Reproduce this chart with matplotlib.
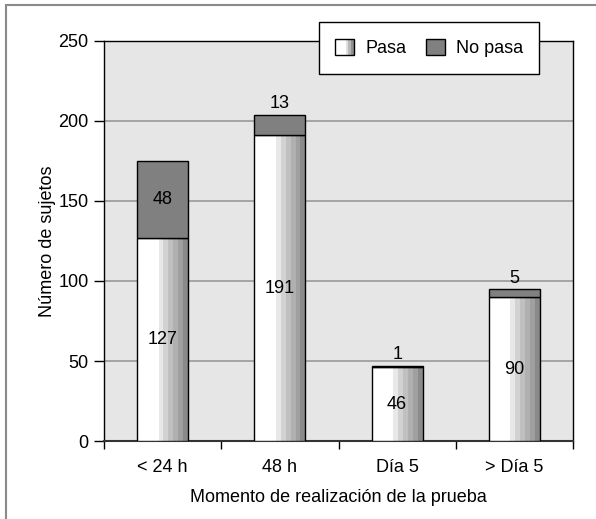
import numpy as np
import matplotlib
matplotlib.use("Agg")
import matplotlib.pyplot as plt
from matplotlib.patches import Rectangle
from matplotlib.legend_handler import HandlerBase

plt.rcParams['font.family'] = ['Liberation Sans', 'DejaVu Sans']

# data
categorias = ['< 24 h', '48 h', 'Día 5', '> Día 5']
pasa = [127, 191, 46, 90]
no_pasa = [48, 13, 1, 5]

# shading used inside the "Pasa" bars (white then grey stripes)
tonos = ['#ffffff', '#e8e8e8', '#d2d2d2', '#c0c0c0', '#b0b0b0', '#a0a0a0', '#8a8a8a']
anchos = [0.42] + [0.58 / 6] * 6
gris_no = '#808080'
fondo = '#e6e6e6'
fs = 13


class HandlerRayas(HandlerBase):
    # legend patch with the same stripes as the bars
    def create_artists(self, legend, orig_handle, xdescent, ydescent,
                       width, height, fontsize, trans):
        arts = []
        x0 = -xdescent
        fr = [0.55, 0.15, 0.15, 0.15]
        cs = ['#ffffff', '#e0e0e0', '#b8b8b8', '#909090']
        for f, c in zip(fr, cs):
            w = f * width
            arts.append(Rectangle((x0, -ydescent), w, height, facecolor=c,
                                  edgecolor='none', transform=trans))
            x0 += w
        arts.append(Rectangle((-xdescent, -ydescent), width, height, facecolor='none',
                              edgecolor='black', lw=1, transform=trans))
        return arts


fig = plt.figure(figsize=(5.96, 5.19), dpi=100)
ax = fig.add_axes([104 / 596, 1 - 441 / 519, 469 / 596, 400 / 519])
ax.set_facecolor(fondo)

# outer frame (only left and top edges visible)
fig.add_artist(Rectangle((6 / 596, -0.1), 1.2, 1.1 - 5 / 519, transform=fig.transFigure,
                         facecolor='none', edgecolor='#8a8a8a', lw=1.5, clip_on=False))

x = np.arange(len(categorias))
ancho = 0.435

for i in range(len(categorias)):
    izq = x[i] - ancho / 2
    pos = izq
    for a, c in zip(anchos, tonos):
        ax.bar(pos, pasa[i], width=ancho * a, align='edge', color=c, edgecolor='none', zorder=3)
        pos += ancho * a
    ax.bar(x[i], pasa[i], width=ancho, facecolor='none', edgecolor='black', lw=1, zorder=4)
    ax.bar(x[i], no_pasa[i], bottom=pasa[i], width=ancho, color=gris_no,
           edgecolor='black', lw=1, zorder=4)

    ax.text(x[i], pasa[i] / 2, str(pasa[i]), ha='center', va='center', fontsize=fs, zorder=5)
    if no_pasa[i] > 20:
        ax.text(x[i], pasa[i] + no_pasa[i] / 2, str(no_pasa[i]), ha='center', va='center',
                fontsize=fs, zorder=5)
    else:
        ax.text(x[i], pasa[i] + no_pasa[i] + 1.5, str(no_pasa[i]), ha='center', va='bottom',
                fontsize=fs, zorder=5)

ax.set_xlim(-0.5, 3.5)
ax.set_ylim(0, 250)
ax.set_yticks([0, 50, 100, 150, 200, 250])
ax.yaxis.grid(True, color='#9a9a9a', lw=1.2, zorder=1)
ax.set_axisbelow(True)
ax.tick_params(axis='y', direction='out', length=7, width=1, labelsize=fs, pad=4)

ax.set_xticks(x)
ax.set_xticklabels(categorias)
ax.set_xticks(np.arange(-0.5, 4, 1), minor=True)
ax.tick_params(axis='x', which='major', length=0, labelsize=fs, pad=13)
ax.tick_params(axis='x', which='minor', direction='out', length=6, width=1)

for s in ax.spines.values():
    s.set_color('black')
    s.set_linewidth(1)
ax.spines['bottom'].set_color('#333333')
ax.spines['bottom'].set_linewidth(1.5)

ax.set_ylabel('Número de sujetos', fontsize=fs, labelpad=2)
ax.set_xlabel('Momento de realización de la prueba', fontsize=fs, labelpad=9)

h1 = Rectangle((0, 0), 1, 1, facecolor='white', edgecolor='black')
h2 = Rectangle((0, 0), 1, 1, facecolor=gris_no, edgecolor='black')
leg = ax.legend([h1, h2], ['Pasa', 'No pasa'], ncol=2, loc='center',
                bbox_to_anchor=((429 - 104) / 469, (441 - 48) / 400),
                handler_map={h1: HandlerRayas()}, fontsize=fs, frameon=True,
                fancybox=False, edgecolor='black', framealpha=1,
                handlelength=1.05, handleheight=1.05, handletextpad=0.6,
                columnspacing=1.1, borderpad=0.9)
leg.get_frame().set_linewidth(1)
leg.set_zorder(10)

fig.savefig('out.png', dpi=100)
